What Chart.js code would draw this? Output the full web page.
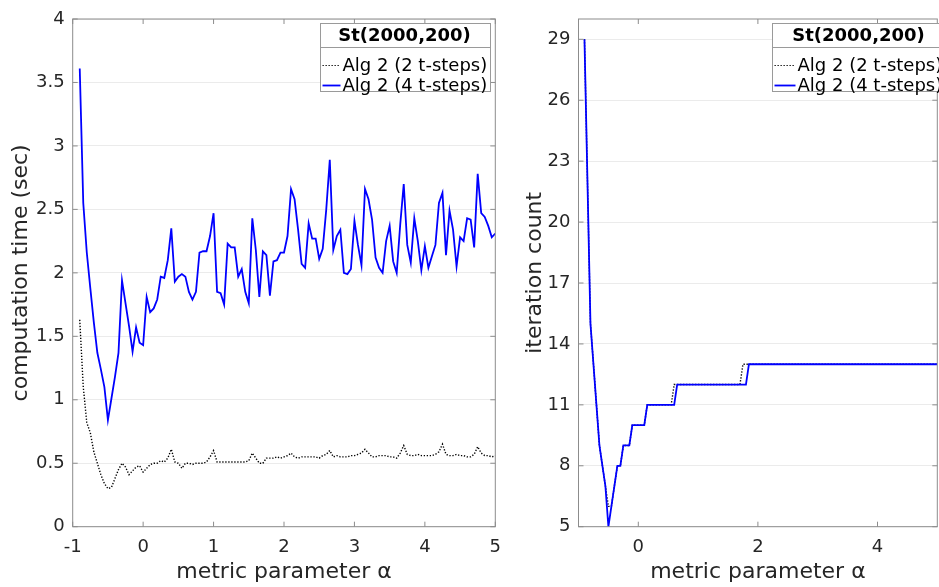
<!DOCTYPE html>
<html>
<head>
<meta charset="utf-8">
<script src="https://cdn.jsdelivr.net/npm/chart.js@4.4.1/dist/chart.umd.min.js"></script>
<style>
  html, body { margin: 0; padding: 0; background: #fff; }
  #wrap { position: relative; width: 939px; height: 587px; overflow: hidden; }
  canvas { position: absolute; top: 0; }
  #timeChart { left: 0; }
  #iterChart { left: 505px; }
</style>
</head>
<body>
<div id="wrap">
  <canvas id="timeChart" width="505" height="587"></canvas>
  <canvas id="iterChart" width="434" height="587"></canvas>
</div>
<script>
// metric parameter alpha (x values shared by all series)
const alpha = [
  -0.9, -0.85, -0.8, -0.75, -0.7, -0.65, -0.6, -0.55, -0.5, -0.45,
  -0.4, -0.35, -0.3, -0.25, -0.2, -0.15, -0.1, -0.05, 0, 0.05,
  0.1, 0.15, 0.2, 0.25, 0.3, 0.35, 0.4, 0.45, 0.5, 0.55,
  0.6, 0.65, 0.7, 0.75, 0.8, 0.85, 0.9, 0.95, 1, 1.05,
  1.1, 1.15, 1.2, 1.25, 1.3, 1.35, 1.4, 1.45, 1.5, 1.55,
  1.6, 1.65, 1.7, 1.75, 1.8, 1.85, 1.9, 1.95, 2, 2.05,
  2.1, 2.15, 2.2, 2.25, 2.3, 2.35, 2.4, 2.45, 2.5, 2.55,
  2.6, 2.65, 2.7, 2.75, 2.8, 2.85, 2.9, 2.95, 3, 3.05,
  3.1, 3.15, 3.2, 3.25, 3.3, 3.35, 3.4, 3.45, 3.5, 3.55,
  3.6, 3.65, 3.7, 3.75, 3.8, 3.85, 3.9, 3.95, 4, 4.05,
  4.1, 4.15, 4.2, 4.25, 4.3, 4.35, 4.4, 4.45, 4.5, 4.55,
  4.6, 4.65, 4.7, 4.75, 4.8, 4.85, 4.9, 4.95, 5
];

// computation time (sec)
const time2 = [
  1.63, 1.10, 0.82, 0.74, 0.59, 0.50, 0.41, 0.34, 0.30, 0.31,
  0.38, 0.45, 0.50, 0.47, 0.41, 0.44, 0.47, 0.48, 0.43, 0.46,
  0.49, 0.50, 0.50, 0.52, 0.51, 0.54, 0.61, 0.51, 0.50, 0.46,
  0.50, 0.50, 0.49, 0.50, 0.50, 0.50, 0.51, 0.55, 0.60, 0.51,
  0.51, 0.51, 0.51, 0.51, 0.51, 0.51, 0.51, 0.51, 0.52, 0.58,
  0.54, 0.50, 0.50, 0.54, 0.54, 0.54, 0.55, 0.54, 0.55, 0.56,
  0.58, 0.55, 0.54, 0.55, 0.55, 0.55, 0.55, 0.55, 0.54, 0.56,
  0.57, 0.60, 0.55, 0.56, 0.55, 0.55, 0.55, 0.56, 0.56, 0.57,
  0.58, 0.61, 0.58, 0.55, 0.55, 0.56, 0.56, 0.56, 0.55, 0.55,
  0.54, 0.58, 0.64, 0.57, 0.56, 0.56, 0.57, 0.56, 0.56, 0.56,
  0.56, 0.57, 0.59, 0.65, 0.57, 0.56, 0.56, 0.57, 0.56, 0.56,
  0.55, 0.55, 0.57, 0.63, 0.58, 0.56, 0.56, 0.55, 0.56
];
const time4 = [
  3.61, 2.55, 2.16, 1.88, 1.61, 1.37, 1.24, 1.10, 0.84, 1.01,
  1.18, 1.37, 1.94, 1.76, 1.58, 1.38, 1.57, 1.45, 1.43, 1.81,
  1.69, 1.72, 1.79, 1.97, 1.96, 2.10, 2.35, 1.93, 1.97, 1.99,
  1.97, 1.85, 1.79, 1.85, 2.16, 2.17, 2.17, 2.29, 2.47, 1.85,
  1.84, 1.75, 2.23, 2.20, 2.20, 1.97, 2.03, 1.85, 1.76, 2.43,
  2.18, 1.81, 2.17, 2.14, 1.82, 2.09, 2.10, 2.16, 2.16, 2.29,
  2.66, 2.58, 2.34, 2.07, 2.04, 2.39, 2.27, 2.27, 2.11, 2.19,
  2.50, 2.89, 2.18, 2.29, 2.34, 2.00, 1.99, 2.03, 2.41, 2.22,
  2.06, 2.66, 2.58, 2.42, 2.12, 2.04, 2.00, 2.25, 2.37, 2.09,
  2.00, 2.38, 2.70, 2.22, 2.08, 2.43, 2.25, 2.02, 2.21, 2.04,
  2.13, 2.22, 2.55, 2.63, 2.14, 2.49, 2.34, 2.05, 2.28, 2.25,
  2.43, 2.42, 2.20, 2.78, 2.47, 2.44, 2.37, 2.28, 2.31
];

// iteration count
const iter2 = [
  29, 22, 15, 13, 11, 9, 8, 7, 6, 6,
  7, 8, 8, 9, 9, 9, 10, 10, 10, 10,
  10, 11, 11, 11, 11, 11, 11, 11, 11, 11,
  12, 12, 12, 12, 12, 12, 12, 12, 12, 12,
  12, 12, 12, 12, 12, 12, 12, 12, 12, 12,
  12, 12, 12, 13, 13, 13, 13, 13, 13, 13,
  13, 13, 13, 13, 13, 13, 13, 13, 13, 13,
  13, 13, 13, 13, 13, 13, 13, 13, 13, 13,
  13, 13, 13, 13, 13, 13, 13, 13, 13, 13,
  13, 13, 13, 13, 13, 13, 13, 13, 13, 13,
  13, 13, 13, 13, 13, 13, 13, 13, 13, 13,
  13, 13, 13, 13, 13, 13, 13, 13, 13
];
const iter4 = [
  29, 22, 15, 13, 11, 9, 8, 7, 5, 6,
  7, 8, 8, 9, 9, 9, 10, 10, 10, 10,
  10, 11, 11, 11, 11, 11, 11, 11, 11, 11,
  11, 12, 12, 12, 12, 12, 12, 12, 12, 12,
  12, 12, 12, 12, 12, 12, 12, 12, 12, 12,
  12, 12, 12, 12, 12, 13, 13, 13, 13, 13,
  13, 13, 13, 13, 13, 13, 13, 13, 13, 13,
  13, 13, 13, 13, 13, 13, 13, 13, 13, 13,
  13, 13, 13, 13, 13, 13, 13, 13, 13, 13,
  13, 13, 13, 13, 13, 13, 13, 13, 13, 13,
  13, 13, 13, 13, 13, 13, 13, 13, 13, 13,
  13, 13, 13, 13, 13, 13, 13, 13, 13
];

// tick labels
const timeTicksX = [-1, 0, 1, 2, 3, 4, 5];
const timeTicksY = [0, 0.5, 1, 1.5, 2, 2.5, 3, 3.5, 4];
const iterTicksX = [0, 2, 4];
const iterTicksY = [5, 8, 11, 14, 17, 20, 23, 26, 29];

const legendTitle = "St(2000,200)";
const seriesLabels = ["Alg 2 (2 t-steps)", "Alg 2 (4 t-steps)"];

const FONT = "'DejaVu Sans', sans-serif";
const TEXT = "#262626";
const FRAME = "#8c8c8c";

// axes box with inward tick marks on all four sides (matlab style)
const boxPlugin = {
  id: "box",
  afterDatasetsDraw(chart) {
    const { ctx, chartArea: a, scales } = chart;
    ctx.save();
    ctx.strokeStyle = FRAME;
    ctx.lineWidth = 1;
    ctx.strokeRect(a.left, a.top, a.right - a.left, a.bottom - a.top);
    ctx.beginPath();
    scales.x.ticks.forEach(t => {
      const px = scales.x.getPixelForValue(t.value);
      ctx.moveTo(px, a.bottom); ctx.lineTo(px, a.bottom - 5);
      ctx.moveTo(px, a.top); ctx.lineTo(px, a.top + 5);
    });
    scales.y.ticks.forEach(t => {
      const py = scales.y.getPixelForValue(t.value);
      ctx.moveTo(a.left, py); ctx.lineTo(a.left + 5, py);
      ctx.moveTo(a.right, py); ctx.lineTo(a.right - 5, py);
    });
    ctx.stroke();
    ctx.restore();
  }
};

// boxed legend with a title row
const legendPlugin = {
  id: "legendBox",
  afterDraw(chart, args, opts) {
    const { ctx, chartArea: a } = chart;
    const x = Math.round(a.right - opts.offset) + 0.5;
    const y = 23.5;
    const w = opts.width, h = 68;
    ctx.save();
    ctx.fillStyle = "#fff";
    ctx.fillRect(x, y, w, h);
    ctx.strokeStyle = "#9a9a9a";
    ctx.lineWidth = 1;
    ctx.strokeRect(x, y, w, h);
    ctx.beginPath();
    ctx.moveTo(x, y + 24); ctx.lineTo(x + w, y + 24);
    ctx.stroke();
    ctx.fillStyle = "#000";
    ctx.textBaseline = "middle";
    ctx.textAlign = "center";
    ctx.font = "bold 18px " + FONT;
    ctx.fillText(legendTitle, x + opts.titleX, y + 12.5);
    ctx.textAlign = "left";
    ctx.font = "18px " + FONT;
    chart.data.datasets.forEach((ds, k) => {
      const ry = y + 42 + k * 20;
      ctx.strokeStyle = ds.borderColor;
      ctx.lineWidth = k === 0 ? 1 : ds.borderWidth;
      ctx.setLineDash(ds.borderDash || []);
      ctx.beginPath();
      ctx.moveTo(x + 2, ry); ctx.lineTo(x + opts.lineLen, ry);
      ctx.stroke();
      ctx.setLineDash([]);
      ctx.fillText(ds.label, x + opts.textX, ry + 1);
    });
    ctx.restore();
  }
};

function makeSeries(values) {
  return alpha.map((a, i) => ({ x: a, y: values[i] }));
}

function noScalePadding(s) {
  s.paddingLeft = 0;
  s.paddingRight = 0;
  s.paddingTop = 0;
  s.paddingBottom = 0;
}

function makeChart(canvasId, cfg) {
  const ctx = document.getElementById(canvasId).getContext("2d");
  return new Chart(ctx, {
    type: "line",
    data: {
      datasets: [
        {
          label: seriesLabels[0],
          data: makeSeries(cfg.black),
          borderColor: "#000000",
          borderWidth: 1.4,
          borderDash: [1.3, 1.7],
          pointRadius: 0,
          order: 1,
        },
        {
          label: seriesLabels[1],
          data: makeSeries(cfg.blue),
          borderColor: "#0000ff",
          borderWidth: 1.8,
          pointRadius: 0,
          order: 0,
        },
      ],
    },
    options: {
      responsive: false,
      animation: false,
      devicePixelRatio: 1,
      layout: { padding: { top: 19, right: cfg.padRight, left: 0, bottom: 0 } },
      plugins: {
        legend: { display: false },
        tooltip: { enabled: false },
        legendBox: cfg.legend,
      },
      scales: {
        x: {
          type: "linear",
          min: -1,
          max: 5,
          afterBuildTicks: s => { s.ticks = cfg.ticksX.map(v => ({ value: v })); },
          afterFit: s => { s.height = 60.3; noScalePadding(s); },
          grid: { display: false, drawTicks: false },
          border: { display: false },
          ticks: {
            font: { family: FONT, size: 18 }, color: TEXT, padding: 10, maxRotation: 0,
            callback: v => String(v),
          },
          title: {
            display: true,
            text: "metric parameter α",
            font: { family: FONT, size: 22 },
            color: TEXT,
            padding: { top: 0, bottom: 2 },
          },
        },
        y: {
          type: "linear",
          min: cfg.yMin,
          max: cfg.yMax,
          afterBuildTicks: s => { s.ticks = cfg.ticksY.map(v => ({ value: v })); },
          afterFit: s => { s.width = cfg.yWidth; noScalePadding(s); },
          grid: { color: "#ebebeb", drawTicks: false },
          border: { display: false },
          ticks: {
            font: { family: FONT, size: 18 }, color: TEXT, padding: 8,
            callback: v => String(v),
          },
          title: {
            display: true,
            text: cfg.yTitle,
            font: { family: FONT, size: 22 },
            color: TEXT,
            padding: { top: cfg.yTitlePad, bottom: 0 },
          },
        },
      },
    },
    plugins: [boxPlugin, legendPlugin],
  });
}

makeChart("timeChart", {
  black: time2,
  blue: time4,
  ticksX: timeTicksX,
  ticksY: timeTicksY,
  yMin: 0,
  yMax: 4,
  yTitle: "computation time (sec)",
  yTitlePad: 8,
  yWidth: 72.7,
  padRight: 9.7,
  legend: { offset: 175.5, width: 170, titleX: 84, lineLen: 20, textX: 22 },
});

makeChart("iterChart", {
  black: iter2,
  blue: iter4,
  ticksX: iterTicksX,
  ticksY: iterTicksY,
  yMin: 5,
  yMax: 30,
  yTitle: "iteration count",
  yTitlePad: 17,
  yWidth: 73.5,
  padRight: 1.7,
  legend: { offset: 165, width: 175, titleX: 86, lineLen: 23, textX: 25 },
});
</script>
</body>
</html>
